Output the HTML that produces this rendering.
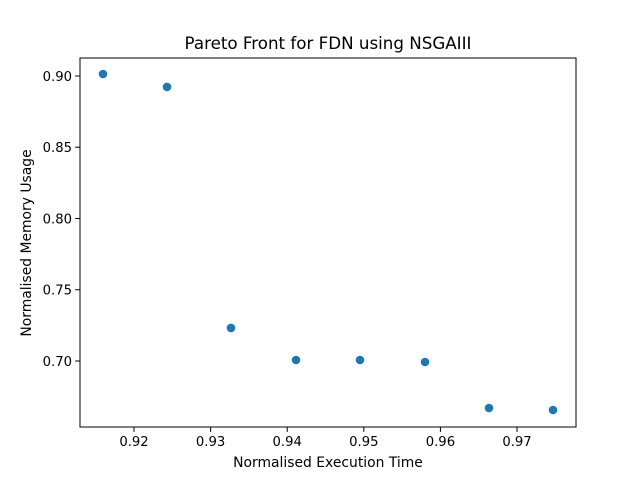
<!DOCTYPE html>
<html><head><meta charset="utf-8"><style>
body{margin:0;background:#fff;}
svg{font-family:"DejaVu Sans","Liberation Sans",sans-serif;}
</style></head><body>
<svg id="c" width="640" height="480"></svg>
<script>
const xValues=[0.91595,0.92431,0.93266,0.94115,0.94950,0.95799,0.96634,0.97470];
const yValues=[0.9014,0.8923,0.7232,0.7007,0.7007,0.6993,0.6670,0.6656];
const xTicks=[0.92,0.93,0.94,0.95,0.96,0.97];
const yTicks=[0.70,0.75,0.80,0.85,0.90];
const L=80,R=576,T=58,B=427;
const X0=0.91295,X1=0.97770,Y0=0.65368,Y1=0.91263;
const sx=v=>L+(v-X0)/(X1-X0)*(R-L);
const sy=v=>B-(v-Y0)/(Y1-Y0)*(B-T);
const svg=document.getElementById('c');
const NS='http://www.w3.org/2000/svg';
function mk(t,a,txt){const e=document.createElementNS(NS,t);for(const k in a)e.setAttribute(k,a[k]);if(txt!=null)e.textContent=txt;svg.appendChild(e);return e;}
let e;
e=mk('rect',{x:L,y:T,width:R-L,height:B-T,fill:'none',stroke:'#000','stroke-width':1});


xTicks.forEach(v=>{const x=sx(v);
e=mk('line',{x1:x,x2:x,y1:B,y2:B+4.9,stroke:'#000'});


e=mk('text',{x:x,y:B+19,'text-anchor':'middle','font-size':13.2},v.toFixed(2));

});
yTicks.forEach(v=>{const y=sy(v);
e=mk('line',{x1:L-4.9,x2:L,y1:y,y2:y,stroke:'#000'});


e=mk('text',{x:L-8,y:y+5,'text-anchor':'end','font-size':13.2},v.toFixed(2));

});
xValues.forEach((v,i)=>{
e=mk('circle',{cx:sx(v),cy:sy(yValues[i]),r:4.3,fill:'#1f77b4'});

});
e=mk('text',{x:328,y:49,'text-anchor':'middle','font-size':16.7},'Pareto Front for FDN using NSGAIII');


e=mk('text',{x:328,y:467,'text-anchor':'middle','font-size':13.9},'Normalised Execution Time');


e=mk('text',{x:31,y:243,'text-anchor':'middle','font-size':13.9,transform:'rotate(-90 31 243)'},'Normalised Memory Usage');


</script>
</body></html>
